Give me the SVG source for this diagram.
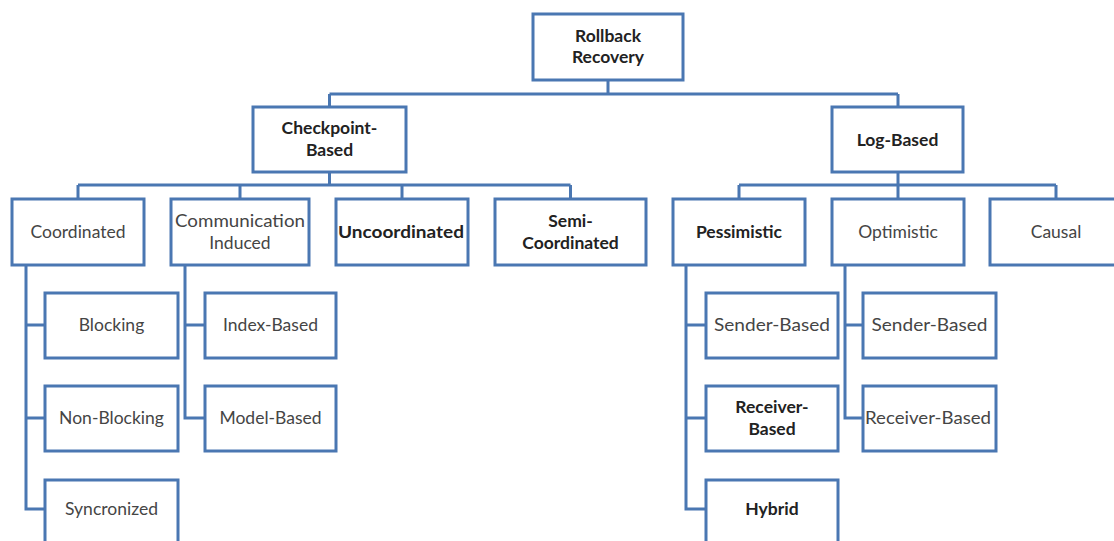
<svg xmlns="http://www.w3.org/2000/svg" width="1114" height="541" viewBox="0 0 1114 541">
  <style>
    .box { fill: #ffffff; stroke: #4a77b2; stroke-width: 3; }
    .wire { fill: none; stroke: #4a77b2; stroke-width: 3; stroke-linejoin: miter; }
    text { font-family: Lato, "Open Sans", "Liberation Sans", sans-serif; font-size: 17.5px; text-anchor: middle; }
    .n { fill: #454545; }
    .b { fill: #222222; font-weight: bold; }
  </style>
  <rect width="1114" height="541" fill="#ffffff"/>

  <!-- tree connectors -->
  <g id="connectors">
    <path class="wire" d="M608,80 V94 M329.5,94 H898 M329.5,94 V107 M898,94 V107"/>
    <path class="wire" d="M329.5,172 V185 M78,185 H570.5 M78,185 V199 M240,185 V199 M402,185 V199 M570.5,185 V199"/>
    <path class="wire" d="M898,172 V185 M739,185 H1056 M739,185 V199 M898,185 V199 M1056,185 V199"/>
    <path class="wire" d="M26,265 V509 H45 M26,325 H45 M26,418 H45"/>
    <path class="wire" d="M185,265 V418 H205 M185,325 H205"/>
    <path class="wire" d="M686,265 V509 H706 M686,325 H706 M686,418 H706"/>
    <path class="wire" d="M845,265 V418 H863 M845,325 H863"/>
  </g>

  <g id="rollback-recovery">
    <rect class="box" x="533" y="14" width="150" height="66"/>
    <text class="b" x="608" y="42">Rollback</text>
    <text class="b" x="608" y="63">Recovery</text>
  </g>

  <g id="checkpoint-based">
    <rect class="box" x="253" y="107" width="153" height="65"/>
    <text class="b" x="329.5" y="134">Checkpoint-</text>
    <text class="b" x="329.5" y="156">Based</text>
  </g>

  <g id="log-based">
    <rect class="box" x="832" y="107" width="131" height="65"/>
    <text class="b" x="897.5" y="146">Log-Based</text>
  </g>

  <g id="coordinated">
    <rect class="box" x="12" y="199" width="132" height="66"/>
    <text class="n" x="78" y="238">Coordinated</text>
  </g>

  <g id="communication-induced">
    <rect class="box" x="171" y="199" width="138" height="66"/>
    <text class="n" x="240" y="227" textLength="130" lengthAdjust="spacingAndGlyphs">Communication</text>
    <text class="n" x="240" y="249">Induced</text>
  </g>

  <g id="uncoordinated">
    <rect class="box" x="336" y="199" width="132" height="66"/>
    <text class="b" x="401" y="238" textLength="126" lengthAdjust="spacingAndGlyphs">Uncoordinated</text>
  </g>

  <g id="semi-coordinated">
    <rect class="box" x="495" y="199" width="151" height="66"/>
    <text class="b" x="570.5" y="227">Semi-</text>
    <text class="b" x="570.5" y="249">Coordinated</text>
  </g>

  <g id="pessimistic">
    <rect class="box" x="673" y="199" width="132" height="66"/>
    <text class="b" x="739" y="238">Pessimistic</text>
  </g>

  <g id="optimistic">
    <rect class="box" x="832" y="199" width="132" height="66"/>
    <text class="n" x="898" y="238">Optimistic</text>
  </g>

  <g id="causal">
    <rect class="box" x="990" y="199" width="132" height="66"/>
    <text class="n" x="1056" y="238">Causal</text>
  </g>

  <g id="blocking">
    <rect class="box" x="45" y="293" width="133" height="65"/>
    <text class="n" x="111.5" y="331">Blocking</text>
  </g>

  <g id="non-blocking">
    <rect class="box" x="45" y="386" width="133" height="65"/>
    <text class="n" x="111.5" y="424">Non-Blocking</text>
  </g>

  <g id="syncronized">
    <rect class="box" x="45" y="480" width="133" height="70"/>
    <text class="n" x="111.5" y="515">Syncronized</text>
  </g>

  <g id="index-based">
    <rect class="box" x="205" y="293" width="131" height="65"/>
    <text class="n" x="270.5" y="331">Index-Based</text>
  </g>

  <g id="model-based">
    <rect class="box" x="205" y="386" width="131" height="65"/>
    <text class="n" x="270.5" y="424">Model-Based</text>
  </g>

  <g id="pessimistic-sender-based">
    <rect class="box" x="706" y="293" width="132" height="65"/>
    <text class="n" x="772" y="331" textLength="116" lengthAdjust="spacingAndGlyphs">Sender-Based</text>
  </g>

  <g id="pessimistic-receiver-based">
    <rect class="box" x="706" y="386" width="132" height="65"/>
    <text class="b" x="772" y="413">Receiver-</text>
    <text class="b" x="772" y="435">Based</text>
  </g>

  <g id="hybrid">
    <rect class="box" x="706" y="480" width="132" height="70"/>
    <text class="b" x="772" y="515">Hybrid</text>
  </g>

  <g id="optimistic-sender-based">
    <rect class="box" x="863" y="293" width="133" height="65"/>
    <text class="n" x="929.5" y="331" textLength="116" lengthAdjust="spacingAndGlyphs">Sender-Based</text>
  </g>

  <g id="optimistic-receiver-based">
    <rect class="box" x="863" y="386" width="133" height="65"/>
    <text class="n" x="928" y="424" textLength="126" lengthAdjust="spacingAndGlyphs">Receiver-Based</text>
  </g>
</svg>
